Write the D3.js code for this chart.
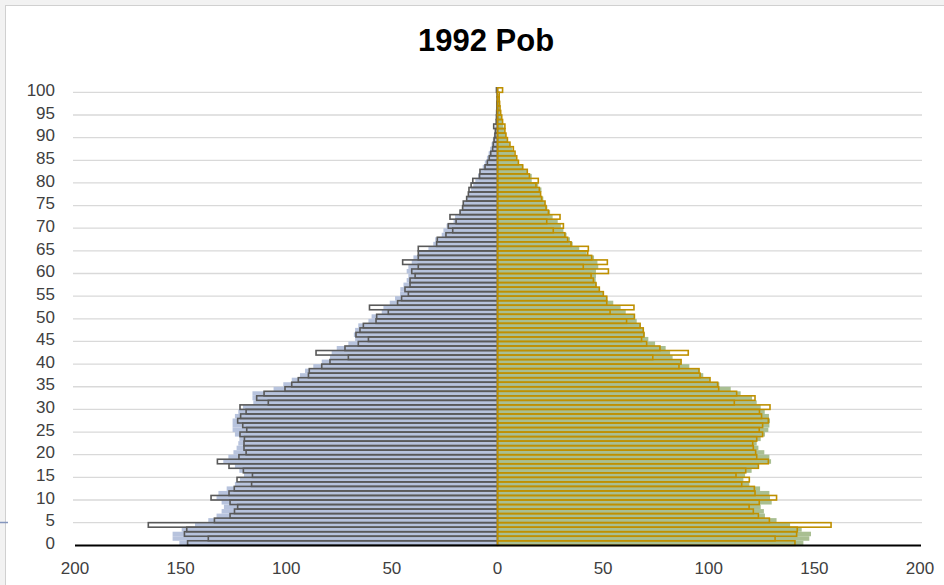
<!DOCTYPE html>
<html>
<head>
<style>
  body { margin: 0; background: #f2f2f2; }
  svg { display: block; }
</style>
</head>
<body>

<script src="https://d3js.org/d3.v7.min.js"></script>
<script>

const width = 944;
const height = 585;

const title = '1992 Pob';

// ages 0..100
const ages = d3.range(0, 101);
const ageTicks = d3.range(0, 101, 5);
const valueTicks = [-200, -150, -100, -50, 0, 50, 100, 150, 200];

// left side, filled bars
const menFill = [
  150.6, 153.8, 153.8, 149.5, 143.2, 136.9, 133, 130.6, 129.5, 130.6,
  133, 132.1, 128.2, 124.3, 121.9, 120, 122.2, 124.3, 129.8, 127.4,
  125, 123.5, 122.7, 122.2, 124.3, 125.4, 125.4, 125.4, 124.3, 122.7,
  120.5, 115.6, 116, 116, 106, 101.4, 97.4, 93.5, 91.1, 87.2,
  83.2, 79.3, 78.5, 76.1, 70.6, 67.4, 68, 67.4, 65.9, 61.1,
  59.6, 54.8, 54, 51, 48.5, 46.1, 46, 44.5, 43, 42.2,
  43, 42.2, 40.6, 39.8, 37.5, 32.7, 30.4, 29.5, 26.4, 25.6,
  24.1, 20.8, 20.1, 18, 16.9, 16.2, 14.8, 13.5, 12.6, 11.5,
  10.5, 9.2, 8.2, 7, 6, 5, 4.2, 3.5, 2.8, 2.2,
  1.7, 1.3, 1.0, 0.8, 0.6, 0.5, 0.4, 0.3, 0.2, 0.2,
  0.2
];

// left side, outline bars
const menLine = [
  146.7, 136.9, 148.2, 147.1, 165.3, 134.0, 126.6, 124.5, 123, 126.6,
  135.6, 127.1, 124.6, 116.4, 123.3, 116.0, 120.3, 127.1, 132.6, 122.4,
  119.0, 120.0, 120.0, 119.8, 121.9, 118.7, 120.6, 123.0, 121.6, 119.0,
  121.9, 108.5, 114, 110.5, 100.6, 97.4, 94.3, 89.5, 89.1, 83.2,
  79.3, 70.6, 85.9, 72.2, 65.9, 61.1, 67, 65.1, 63.5, 57.5,
  57.2, 51.7, 60.6, 47.3, 45.4, 42.2, 43.8, 41.4, 41.4, 39,
  40.6, 37.5, 44.9, 37.5, 37.5, 37.5, 28.8, 28.5, 24.4, 21.2,
  23.3, 19.6, 22.5, 17.7, 16.5, 16.2, 14.6, 13.8, 13.5, 12.5,
  11.7, 8.5, 8.3, 5.9, 4.8, 3.9, 3.2, 2.3, 2.0, 1.6,
  1.2, 1.0, 1.8, 0.6, 0.5, 0.4, 0.3, 0.3, 0.2, 0.2,
  0.5
];

// right side, filled bars
const womenFill = [
  144.8, 147.6, 148.4, 144, 138.5, 132.1, 126.6, 126.1, 124.6, 129.8,
  129, 128.7, 124.3, 119.2, 116.4, 117.2, 120.3, 123.5, 129.5, 128.7,
  126.3, 123.5, 122.7, 124.6, 126.6, 128.2, 128.7, 129, 128.5, 126.5,
  124.6, 122.7, 120.5, 115.1, 110.4, 105, 100.6, 97.4, 95.5, 90.8,
  86.9, 82.9, 81.7, 79.6, 74.6, 71.4, 69.8, 69.3, 67.8, 65.9,
  65.1, 60.7, 58.3, 54.8, 52, 50.4, 48.5, 47, 46.5, 46.6,
  46.6, 47.7, 47.3, 45.7, 42.2, 38.7, 35.6, 34.3, 32.7, 31.2,
  30, 28.5, 26.1, 24.9, 23.6, 22.5, 21.7, 20.1, 20.8, 19.3,
  16.2, 16.2, 14.1, 12.2, 9.9, 9, 8, 7, 5.8, 4.8,
  4, 3.3, 2.8, 2.2, 1.7, 1.3, 1, 0.8, 0.6, 0.4,
  0.3
];

// right side, outline bars
const womenLine = [
  140.8, 131.4, 141.6, 141.9, 157.9, 128.7, 123.5, 121.1, 119.1, 123.9,
  132.1, 121.9, 121.6, 115.6, 119.2, 112.9, 117.5, 123.5, 128.2, 122.7,
  122.2, 121.1, 120.8, 122.7, 125.5, 123.9, 125.5, 128.2, 125, 124,
  129, 112.1, 121.9, 113.2, 104.7, 104.2, 100.6, 95.9, 95.4, 85.9,
  86.9, 73.5, 90.3, 76.9, 70.6, 68.2, 69.3, 69, 67.5, 61.1,
  64.8, 53.3, 64.6, 51.7, 51.7, 50.1, 48.2, 46.6, 45.4, 44.3,
  52.5, 40.6, 52, 44.6, 42.7, 43, 34.8, 33.2, 31.9, 26.4,
  31.2, 23.3, 29.6, 24.1, 23, 22.5, 20.9, 20.4, 19.8, 18.2,
  19.3, 15.1, 14.1, 11.9, 9.9, 9.1, 8.3, 7.5, 5.9, 4.7,
  4.0, 3.5, 3.5, 2.4, 2.0, 1.5, 1.2, 1.0, 0.8, 0.8,
  2.4
];

const svg = d3.select('body')
              .append('svg')
              .attr('width', width)
              .attr('height', height);

// chart area
svg.append('rect')
   .attr('x', 5.5)
   .attr('y', 5.5)
   .attr('width', width)
   .attr('height', height)
   .attr('fill', '#ffffff')
   .attr('stroke', '#d0d0d0');

svg.append('line')
   .attr('x1', 0).attr('x2', 8)
   .attr('y1', 522.5).attr('y2', 522.5)
   .attr('stroke', '#8596bd')
   .attr('stroke-width', 1.5);

const x = d3.scaleLinear()
            .domain([-200, 200])
            .range([75, 920]);

const y = d3.scaleBand()
            .domain(ages)
            .range([545.3, 87.8])
            .padding(0);

const bw = y.bandwidth();

// gridlines
svg.append('g')
   .selectAll('line')
   .data(ageTicks.filter(d => d > 0))
   .enter()
   .append('line')
   .attr('x1', 73)
   .attr('x2', 922)
   .attr('y1', d => y(d) + bw)
   .attr('y2', d => y(d) + bw)
   .attr('stroke', '#d9d9d9')
   .attr('stroke-width', 1.3);

const rows = ages.map((a, i) => ({
  age: a,
  mf: menFill[i], ml: menLine[i],
  wf: womenFill[i], wl: womenLine[i]
}));

// filled bars
svg.append('g')
   .selectAll('rect')
   .data(rows)
   .enter()
   .append('rect')
   .attr('x', d => x(-d.mf))
   .attr('y', d => y(d.age))
   .attr('width', d => x(0) - x(-d.mf))
   .attr('height', bw)
   .attr('fill', '#b7c3dd');

svg.append('g')
   .selectAll('rect')
   .data(rows)
   .enter()
   .append('rect')
   .attr('x', x(0))
   .attr('y', d => y(d.age))
   .attr('width', d => x(d.wf) - x(0))
   .attr('height', bw)
   .attr('fill', '#a9bf92');

// outline bars
svg.append('g')
   .selectAll('rect')
   .data(rows)
   .enter()
   .append('rect')
   .attr('x', d => x(-d.ml))
   .attr('y', d => y(d.age))
   .attr('width', d => x(0) - x(-d.ml))
   .attr('height', bw)
   .attr('fill', 'none')
   .attr('stroke', '#595959')
   .attr('stroke-width', 1.6);

svg.append('g')
   .selectAll('rect')
   .data(rows)
   .enter()
   .append('rect')
   .attr('x', x(0))
   .attr('y', d => y(d.age))
   .attr('width', d => x(d.wl) - x(0))
   .attr('height', bw)
   .attr('fill', 'none')
   .attr('stroke', '#bf9000')
   .attr('stroke-width', 1.6);

// bottom axis
svg.append('line')
   .attr('x1', 75)
   .attr('x2', 921)
   .attr('y1', 545.5)
   .attr('y2', 545.5)
   .attr('stroke', '#000000')
   .attr('stroke-width', 2);

svg.append('g')
   .selectAll('text')
   .data(valueTicks)
   .enter()
   .append('text')
   .attr('x', d => x(d))
   .attr('y', 574)
   .attr('text-anchor', 'middle')
   .attr('font-family', 'Liberation Sans, Arial, sans-serif')
   .attr('font-size', 17)
   .attr('fill', '#404040')
   .text(d => Math.abs(d));

svg.append('g')
   .selectAll('text')
   .data(ageTicks)
   .enter()
   .append('text')
   .attr('x', 55)
   .attr('y', d => y(d) + bw / 2 + 6)
   .attr('text-anchor', 'end')
   .attr('font-family', 'Liberation Sans, Arial, sans-serif')
   .attr('font-size', 17)
   .attr('fill', '#404040')
   .text(d => d);

svg.append('text')
   .attr('x', 486)
   .attr('y', 51)
   .attr('text-anchor', 'middle')
   .attr('font-family', 'Liberation Sans, Arial, sans-serif')
   .attr('font-weight', 'bold')
   .attr('font-size', 31)
   .attr('fill', '#000000')
   .text(title);

</script>
</body>
</html>
